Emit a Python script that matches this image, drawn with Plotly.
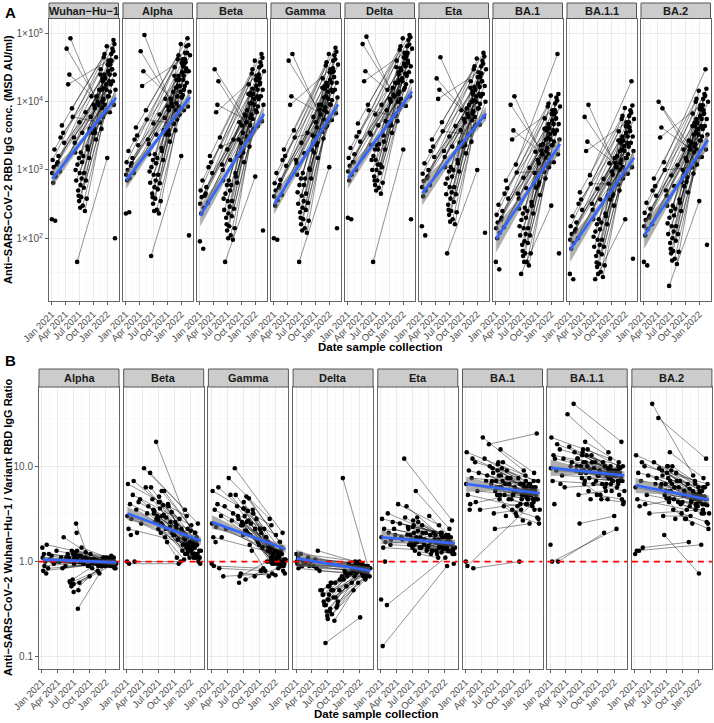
import math
import plotly.graph_objects as go

# ---------------- DATA ----------------
first_dates = ["2021-01-05","2021-01-08","2021-01-12","2021-01-15","2021-01-20","2021-01-28","2021-02-05","2021-02-15","2021-02-25","2021-03-10",
               "2021-03-25","2021-04-10","2021-04-20","2021-05-05","2021-05-15","2021-05-28","2021-06-05","2021-06-12","2021-06-18","2021-06-25",
               "2021-07-01","2021-07-05","2021-07-10","2021-07-15","2021-07-20","2021-07-25","2021-08-01","2021-08-08","2021-08-15","2021-08-25",
               "2021-09-05","2021-09-15","2021-09-25","2021-10-05","2021-10-20","2021-11-10","2021-01-03","2021-01-25","2021-03-01","2021-06-08",
               "2021-06-28","2021-07-08","2021-07-18","2021-08-20","2021-10-10","2021-11-18","2021-12-18","2022-01-30","2022-02-22","2021-07-28"]
second_dates = ["2021-11-20","2021-12-10","2022-01-15","2021-10-25","2022-02-05","2021-12-28","2022-01-05","2021-11-05","2022-02-20","2021-12-15",
                "2022-01-25","2021-11-30","2022-01-10","2021-12-05","2022-02-12","2021-12-20","2022-01-20","2021-11-15","2022-01-02","2021-12-01",
                "2022-02-01","2021-12-12","2022-01-08","2021-10-15","2022-01-28","2021-12-22","2022-01-12","2021-11-25","2022-02-08","2021-12-30",
                "2022-01-18","2021-12-08","2022-02-15","2022-01-22","2022-02-25","2022-03-01"]
third_dates = ["2021-06-02","2021-06-20","2021-07-03","2021-07-12","2021-07-22","2021-08-03","2021-08-12","2021-08-28",
               "2021-09-08","2021-09-20","2021-02-10","2021-03-18","2021-04-28","2021-05-20","2021-10-12","2021-06-30"]
fourth_dates = ["2021-12-03","2022-01-14","2021-11-28","2022-02-10","2021-12-17","2022-01-26","2021-12-26","2022-02-03",
                "2022-01-06","2021-12-14","2021-10-30","2021-12-02","2022-01-19","2021-11-10","2022-02-18","2021-09-30"]

facets_A = ["Wuhan−Hu−1", "Alpha", "Beta", "Gamma", "Delta", "Eta", "BA.1", "BA.1.1", "BA.2"]
facets_B = ["Alpha", "Beta", "Gamma", "Delta", "Eta", "BA.1", "BA.1.1", "BA.2"]

# Panel A: IgG concentration (MSD AU/ml)
wuhan_v1 = [900,1400,650,1100,2000,800,1200,1600,950,4500, 2500,60000,18000,85000,8000,3000,1800,700,45,500,
            350,900,600,400,1300,300,550,250,700,2200, 1500,6000,3500,9000,2800,15000,190,180,3000,1000,
            420,280,750,380,4000,25000,7000,40000,100,1600]
wuhan_v2 = [30000,45000,20000,12000,60000,15000,35000,9000,25000,50000, 18000,8000,40000,6000,80000,22000,14000,5000,1500,10000,
            30000,16000,28000,3500,50000,7000,12000,4000,20000,65000, 25000,11000,9000,35000,15000,45000]
wuhan_v3 = [2500,1200,5000,1800,3500,900,7000,2000,4000,12000,1300,3500,25000,6000,8000,1500]
wuhan_v4 = [20000,35000,15000,55000,9000,40000,18000,30000,12000,25000,10000,22000,7000,5000,70000,4000]
alpha_v1 = [850,1300,700,1000,1900,760,1150,1500,900,4200, 2300,55000,17000,95000,7500,2800,1700,650,55,450,
            320,850,560,380,1250,260,520,230,640,2100, 1400,5800,3300,8500,2600,14000,230,240,2800,950,
            400,250,700,350,3800,24000,6500,38000,110,1500]
alpha_v2 = [32000,42000,21000,11000,65000,14000,37000,8500,28000,48000, 17000,7500,42000,5500,85000,21000,15000,4800,1600,9500,
            28000,17000,27000,3300,52000,6500,12500,3800,19000,70000, 24000,12000,8500,36000,14000,48000]
alpha_v3 = [2400,1100,4800,1700,3300,850,6500,1900,3800,11000,1250,3200,28000,5500,7500,1400]
alpha_v4 = [21000,33000,16000,52000,8500,42000,17000,31000,11500,24000,9500,21000,7500,4800,68000,3800]
beta_v1 = [320,500,230,400,700,280,420,560,330,1600, 900,30000,7000,20000,3000,1200,700,260,45,200,
           130,350,230,150,500,110,210,95,270,900, 650,2800,1600,4500,1300,7500,90,70,1100,380,
           160,100,290,140,2000,13000,3800,22000,130,600]
beta_v2 = [18000,26000,12000,6500,38000,9000,21000,5000,15000,30000, 11000,4500,24000,3500,50000,13000,8500,2800,800,5800,
           18000,9500,17000,1800,32000,4000,7000,2200,12000,40000, 15000,6500,5200,21000,9000,28000]
beta_v3 = [1000,450,2000,700,1400,350,2800,800,1600,5000,450,1300,9000,2200,3500,600]
beta_v4 = [12500,22000,9500,34000,5600,25000,11000,19000,7500,15500,6200,13500,4400,3100,44000,2500]
gamma_v1 = [410,640,300,500,900,360,550,720,430,2000, 1150,40000,9000,50000,3800,1400,850,320,45,240,
            160,420,280,190,600,140,260,120,330,1050, 750,3200,1800,5000,1500,9000,100,95,1400,470,
            200,130,350,180,2300,16000,4500,28000,140,750]
gamma_v2 = [22000,34000,15000,9000,48000,11000,27000,6500,19000,38000, 14000,5500,30000,4200,62000,17000,10500,3600,1100,7500,
            23000,12000,21000,2500,40000,5200,9000,2900,15000,50000, 19000,8300,6800,27000,11500,35000]
gamma_v3 = [1250,600,2500,900,1750,450,3500,1000,2000,6000,600,1600,12000,3000,4200,750]
gamma_v4 = [15500,27000,11500,42000,7000,31000,14000,23000,9200,19000,7700,17000,5400,3800,54000,3100]
delta_v1 = [950,1500,700,1150,2100,850,1300,1700,1000,4800, 2600,70000,20000,90000,9000,3500,2300,1000,45,800,
            600,1400,1000,700,2000,550,900,450,1100,3200, 2000,7500,4500,11000,3500,19000,200,190,3100,1400,
            700,500,1200,650,5000,32000,9000,52000,190,2400]
delta_v2 = [40000,58000,26000,16000,80000,20000,45000,12000,33000,65000, 24000,10000,52000,8000,95000,29000,18000,6500,2000,13000,
            40000,21000,36000,4500,65000,9000,16000,5200,27000,85000, 33000,14000,12000,46000,20000,60000]
delta_v3 = [3300,1600,6500,2300,4500,1200,9000,2600,5200,15000,1300,3600,28000,7500,10000,2000]
delta_v4 = [25000,44000,19000,69000,11000,50000,22000,37000,15000,31000,12500,27000,8700,6200,88000,5000]
eta_v1 = [560,880,410,690,1250,500,750,1000,600,2800, 1550,22000,11000,45000,5000,1900,1100,440,60,310,
          220,560,380,250,800,190,340,160,440,1400, 950,3800,2200,5600,1750,9000,150,110,1900,630,
          260,175,470,240,2500,16000,4400,26000,120,1000]
eta_v2 = [20000,30000,13000,8000,40000,10000,23000,6000,17000,33000, 12000,5300,27000,4000,52000,15000,9300,3300,1000,6700,
          20000,10500,18500,2300,33000,4600,8000,2600,13000,43000, 16500,7300,6000,23000,10000,30000]
eta_v3 = [1550,750,3100,1100,2200,560,4400,1250,2500,7500,800,2200,15000,3700,5000,950]
eta_v4 = [13000,23000,10000,36000,6000,26000,12000,20000,8000,16500,6600,14500,4600,3300,46000,2600]
ba1_v1 = [140,220,100,170,310,120,185,250,145,700, 380,9000,2800,12000,1200,450,270,110,30,80,
          55,140,90,60,200,45,85,40,110,340, 230,900,550,1400,430,2400,45,35,450,150,
          65,45,115,60,600,4000,1100,7000,60,250]
ba1_v2 = [5700,8500,3800,2300,11500,2800,6600,1700,4700,9400, 3400,1500,7500,1130,50000,4100,2600,940,300,1900,
          5700,3000,5300,660,9400,1300,2300,750,3800,12300, 4700,2100,1700,6600,2800,8500]
ba1_v3 = [380,185,770,280,540,140,1080,300,620,1850,200,540,3800,920,1250,230]
ba1_v4 = [3800,6600,2800,10400,1700,7500,3400,5700,2300,4700,1900,4100,1300,950,13000,750]
ba11_v1 = [95,150,70,115,210,85,125,170,100,470, 260,6000,1900,9000,840,320,190,75,25,55,
           38,95,63,42,135,32,58,27,75,230, 160,630,370,950,300,1600,30,25,320,105,
           44,30,80,40,420,2700,750,4200,50,170]
ba11_v2 = [3700,5600,2500,1500,7500,1900,4400,1100,3100,6200, 2200,1000,5000,750,20000,2700,1700,620,190,1250,
           3700,2000,3500,440,6200,870,1500,500,2500,8100, 3100,1400,1100,4400,1900,5600]
ba11_v3 = [260,125,530,190,370,95,740,210,420,1250,135,370,2600,630,850,160]
ba11_v4 = [2500,4400,1900,6900,1100,5000,2250,3750,1500,3100,1250,2750,880,620,8800,500]
ba2_v1 = [150,235,110,185,330,135,200,270,160,750, 420,10000,3000,8000,1300,500,300,115,20,85,
          60,150,100,65,215,50,92,42,115,370, 250,1000,580,1500,470,2500,45,40,500,165,
          70,47,125,63,670,4400,1200,7500,80,270]
ba2_v2 = [6700,10000,4400,2700,13000,3300,7800,2000,5600,11000, 4000,1800,8900,1300,30000,4900,3100,1100,350,2200,
          6700,3600,6200,780,11000,1550,2700,890,4400,14500, 5600,2400,2000,7800,3300,10000]
ba2_v3 = [420,200,830,300,580,150,1170,330,670,2000,215,580,4200,1000,1350,250]
ba2_v4 = [4400,7800,3300,12200,2000,8900,4000,6700,2700,5600,2200,4900,1550,1100,15500,890]

# Panel B: Wuhan-Hu-1 / variant ratio
ratio_alpha_v1 = [1.1,0.8,1.2,0.9,1.0,1.5,0.85,1.05,1.15,0.95, 1.3,1.0,1.1,1.8,0.9,1.2,1.05,0.6,0.55,0.65,
                  0.48,1.1,1.25,2.5,1.3,0.32,1.15,1.0,1.4,0.95, 1.1,1.05,0.9,1.2,1.0,0.95,1.4,0.75,1.0,0.62,
                  1.2,1.1,2.0,1.05,1.0,0.9,1.0,1.1,0.95,0.5]
ratio_alpha_v2 = [1.0,0.95,1.05,1.0,0.9,1.1,0.95,1.0,0.85,1.05, 1.0,0.9,1.1,1.0,0.95,1.0,1.05,0.8,0.9,1.0,
                  1.15,0.95,1.0,0.85,1.1,0.9,1.0,0.75,1.05,0.95, 1.0,0.9,1.1,1.0,0.85,0.95]
ratio_alpha_v3 = [1.1,1.3,0.95,1.2,1.05,0.6,1.15,1.0,1.25,0.9,1.2,1.0,0.85,1.1,1.05,0.58]
ratio_alpha_v4 = [1.0,1.05,0.95,1.0,1.1,0.9,1.0,1.05,0.95,1.0,1.05,0.9,1.0,0.95,1.0,0.7]
ratio_beta_v1 = [3.0,6.5,2.2,0.95,4.0,2.8,5.0,1.0,3.5,4.2, 2.5,9.5,6.0,3.8,8.5,4.5,3.2,2.6,18,3.0,
                 2.2,4.8,3.6,2.0,5.5,2.4,3.1,1.8,2.9,4.0, 2.3,3.3,1.9,2.6,1.7,2.1,1.0,1.9,2.0,3.4,
                 2.7,4.2,2.5,1.6,2.2,1.5,1.4,1.2,1.1,3.9]
ratio_beta_v2 = [2.0,3.0,1.5,0.95,1.8,1.6,2.4,1.0,1.3,2.2, 1.4,3.5,1.7,1.9,2.5,1.5,1.6,1.3,2.1,1.2,
                 1.1,1.8,1.4,1.1,2.0,1.3,1.2,1.05,1.5,1.6, 1.1,1.4,1.0,1.2,0.95,1.3]
ratio_beta_v3 = [3.5,2.8,4.2,2.5,3.0,5.5,2.2,3.8,2.6,2.0,7.0,4.5,3.2,6.0,2.4,2.9]
ratio_beta_v4 = [1.5,1.4,1.8,1.2,1.3,2.0,1.1,1.6,1.3,1.2,2.8,1.7,1.4,2.2,1.1,1.9]
ratio_gamma_v1 = [2.5,5.5,1.8,0.9,3.5,2.3,4.0,0.85,3.0,0.7, 2.2,7.5,5.0,3.2,9.5,3.8,2.8,0.7,0.75,2.6,
                  1.9,4.2,3.0,0.65,4.8,2.0,2.7,1.5,2.5,3.5, 0.7,2.8,1.6,2.2,1.4,1.8,0.95,1.6,1.8,0.6,
                  2.4,3.6,2.1,1.3,0.8,1.3,1.2,1.0,0.95,3.4]
ratio_gamma_v2 = [1.6,2.4,1.2,0.85,1.4,1.3,1.9,0.8,1.05,0.75, 1.1,2.8,1.3,1.5,2.0,1.2,1.25,1.0,0.72,1.0,
                  0.9,1.4,1.1,0.8,1.6,1.0,0.95,0.7,1.2,1.3, 0.85,1.1,0.8,0.95,0.75,1.05]
ratio_gamma_v3 = [3.0,2.4,3.6,2.1,2.6,4.6,1.9,3.2,2.2,1.7,6.0,3.8,2.7,5.0,2.0,2.5]
ratio_gamma_v4 = [1.25,1.15,1.45,1.0,1.1,1.6,0.95,1.3,1.05,0.95,2.2,1.4,1.2,1.8,0.9,1.5]
ratio_delta_v1 = [1.0,0.95,1.1,0.85,1.05,1.2,0.9,1.0,0.95,1.1, 1.0,0.9,1.05,1.3,0.8,0.5,0.45,0.35,0.14,0.3,
                  0.25,0.4,0.55,0.32,0.6,0.28,0.5,0.24,0.42,0.35, 0.5,0.65,7.5,0.8,0.7,0.9,1.2,0.9,1.0,0.38,
                  0.27,0.45,0.6,0.33,0.75,0.85,0.95,0.8,0.85,0.5]
ratio_delta_v2 = [0.9,0.85,0.95,0.75,0.9,1.0,0.8,0.9,0.85,0.95, 0.9,0.8,0.95,1.0,0.75,0.8,0.7,0.6,0.26,0.7,
                  0.65,0.75,0.8,0.55,0.85,0.6,0.75,0.5,0.7,0.8, 0.75,0.85,0.9,0.8,0.7,0.85]
ratio_delta_v3 = [0.45,0.35,0.55,0.3,0.5,0.42,0.6,0.38,0.65,0.7,1.0,0.9,0.85,0.5,0.75,0.4]
ratio_delta_v4 = [0.8,0.75,0.85,0.7,0.8,0.75,0.85,0.7,0.9,0.85,0.95,0.9,0.8,0.75,0.85,0.65]
ratio_eta_v1 = [1.8,2.8,0.13,1.4,2.2,1.6,0.35,2.0,1.5,2.6, 1.9,4.0,2.5,1.7,12,3.8,2.3,1.5,1.9,1.7,
                1.4,2.7,2.0,1.3,5.5,1.6,2.1,1.2,1.8,2.4, 1.5,2.0,1.4,3.0,1.3,1.6,0.4,1.0,1.7,2.2,
                1.5,2.4,1.6,1.4,1.9,1.2,1.5,1.3,0.95,2.9]
ratio_eta_v2 = [1.6,2.0,0.9,1.3,1.8,1.5,1.1,1.7,1.4,2.0, 1.6,2.4,1.9,1.5,2.7,1.8,1.7,1.3,1.5,1.4,
                1.3,1.9,1.6,1.2,2.2,1.4,1.6,1.1,1.5,1.8, 1.3,1.6,1.2,1.9,1.2,1.4]
ratio_eta_v3 = [1.9,1.6,2.3,1.5,1.8,2.6,1.4,2.0,1.7,1.3,3.2,2.2,1.8,2.9,1.6,1.5]
ratio_eta_v4 = [1.5,1.4,1.7,1.3,1.5,1.8,1.35,1.6,1.4,1.25,2.0,1.6,1.5,1.9,1.3,1.45]
ratio_ba1_v1 = [6.5,14,0.9,5.0,9.0,4.0,7.5,0.85,11,5.5, 3.5,20,12,8.0,17,6.5,9.5,3.2,2.2,7.0,
                5.0,10.5,8.0,4.5,15,6.0,7.0,3.8,6.5,9.0, 4.5,7.5,3.5,5.5,3.0,4.0,1.0,3.5,4.2,8.5,
                6.0,11,5.0,3.0,6.0,4.5,4.0,3.5,2.8,9.5]
ratio_ba1_v2 = [5.0,8.0,4.0,3.8,6.0,5.5,6.5,1.0,7.0,4.8, 4.2,9.0,6.0,5.5,22,5.0,6.0,3.5,2.5,5.0,
                4.5,7.0,5.5,3.2,8.5,4.5,5.0,2.7,5.0,6.5, 3.8,5.5,2.9,4.5,2.5,3.5]
ratio_ba1_v3 = [7.0,5.5,9.0,6.0,8.0,11,5.0,7.5,6.5,4.5,12,8.5,7.0,10,5.5,6.0]
ratio_ba1_v4 = [5.5,5.0,6.5,4.5,6.0,7.0,4.5,5.5,5.0,4.0,7.5,6.0,5.5,6.5,4.5,5.0]
ratio_ba11_v1 = [9.5,20,1.0,7.0,13,12,9.0,1.0,15,8.0, 6.0,35,16,11,45,9.0,12,5.0,2.5,10,
                 7.5,14,11,6.5,18,8.5,10,5.5,9.0,13, 6.5,11,5.0,8.0,4.5,6.0,1.5,4.0,6.5,12,
                 8.5,15,7.0,4.5,9.0,6.5,5.5,5.0,4.0,13]
ratio_ba11_v2 = [8.0,12,2.2,6.5,9.5,8.5,8.0,2.0,10,7.5, 6.5,14,9.0,8.5,18,8.0,9.0,5.5,3.0,7.5,
                 7.0,10,8.5,5.0,11,7.0,8.0,4.5,7.5,9.0, 6.0,8.5,4.5,7.0,4.2,5.5]
ratio_ba11_v3 = [10,8.5,13,9.0,11,15,7.5,11,9.5,7.0,17,12,10,14,8.5,9.0]
ratio_ba11_v4 = [8.5,8.0,9.5,7.5,9.0,10,7.0,8.5,8.0,6.5,11,9.0,8.5,10,7.0,8.0]
ratio_ba2_v1 = [6.0,13,1.3,4.5,8.5,3.8,7.0,1.4,10,5.0, 3.2,45,11,7.5,32,6.0,9.0,3.0,1.9,6.5,
                4.6,10,7.5,4.2,14,5.5,6.5,3.5,6.0,8.5, 4.2,7.0,3.2,5.0,2.8,3.8,1.2,1.3,4.0,8.0,
                5.5,10,4.6,2.8,5.5,4.2,3.8,3.2,2.5,9.0]
ratio_ba2_v2 = [4.5,7.0,1.5,3.5,6.0,5.0,5.5,1.6,6.5,4.0, 3.5,8.0,5.5,5.0,12,4.5,5.5,3.0,0.75,4.5,
                4.0,6.5,5.0,2.8,7.5,4.0,4.5,2.5,4.5,6.0, 3.2,5.0,2.6,4.0,2.2,3.2]
ratio_ba2_v3 = [6.5,5.0,8.5,5.5,7.0,10,4.5,7.0,6.0,4.0,11,8.0,6.5,9.5,5.0,5.5]
ratio_ba2_v4 = [4.8,4.5,5.5,4.0,5.0,6.0,3.8,4.8,4.3,3.5,6.5,5.2,4.8,5.8,3.9,4.2]

# Linear-fit trend: value at start / end dates, and band half-widths (log10 units)
trend_dates = ["2021-01-05", "2021-08-03", "2022-03-01"]
trend_A_start = [740, 710, 214, 316, 760, 457, 98, 68, 110]
trend_A_end = [11500, 11700, 6600, 9100, 14100, 6760, 2400, 1510, 2750]
band_A_start = [0.12, 0.13, 0.16, 0.15, 0.15, 0.18, 0.20, 0.18, 0.20]
band_A_mid = [0.04, 0.04, 0.05, 0.05, 0.04, 0.05, 0.05, 0.05, 0.05]
band_A_end = [0.09, 0.09, 0.10, 0.10, 0.09, 0.10, 0.11, 0.11, 0.11]
trend_B_start = [1.05, 3.2, 2.6, 1.08, 1.8, 6.5, 9.6, 6.3]
trend_B_end = [0.98, 1.65, 1.35, 0.80, 1.55, 5.2, 8.0, 4.45]
band_B_start = [0.03, 0.07, 0.07, 0.09, 0.07, 0.08, 0.085, 0.08]
band_B_mid = [0.015, 0.025, 0.025, 0.025, 0.02, 0.025, 0.025, 0.025]
band_B_end = [0.03, 0.04, 0.04, 0.04, 0.04, 0.045, 0.045, 0.045]

x_tick_vals = ["2021-01-01", "2021-04-01", "2021-07-01", "2021-10-01", "2022-01-01"]
x_tick_text = ["Jan 2021", "Apr 2021", "Jul 2021", "Oct 2021", "Jan 2022"]
x_minor_vals = ["2020-11-15", "2021-02-15", "2021-05-16", "2021-08-16", "2021-11-16", "2022-02-15"]
x_range = ["2020-12-15", "2022-03-17"]
yA_tick_vals = [100, 1000, 10000, 100000]
yA_tick_text = ["1×10<sup>2</sup>", "1×10<sup>3</sup>", "1×10<sup>4</sup>", "1×10<sup>5</sup>"]
yB_tick_vals = [0.1, 1, 10]
yB_tick_text = ["0.1", "1.0", "10.0"]

series_A = [(wuhan_v1, wuhan_v2, wuhan_v3, wuhan_v4), (alpha_v1, alpha_v2, alpha_v3, alpha_v4),
            (beta_v1, beta_v2, beta_v3, beta_v4), (gamma_v1, gamma_v2, gamma_v3, gamma_v4),
            (delta_v1, delta_v2, delta_v3, delta_v4), (eta_v1, eta_v2, eta_v3, eta_v4),
            (ba1_v1, ba1_v2, ba1_v3, ba1_v4), (ba11_v1, ba11_v2, ba11_v3, ba11_v4), (ba2_v1, ba2_v2, ba2_v3, ba2_v4)]
series_B = [(ratio_alpha_v1, ratio_alpha_v2, ratio_alpha_v3, ratio_alpha_v4),
            (ratio_beta_v1, ratio_beta_v2, ratio_beta_v3, ratio_beta_v4),
            (ratio_gamma_v1, ratio_gamma_v2, ratio_gamma_v3, ratio_gamma_v4),
            (ratio_delta_v1, ratio_delta_v2, ratio_delta_v3, ratio_delta_v4),
            (ratio_eta_v1, ratio_eta_v2, ratio_eta_v3, ratio_eta_v4),
            (ratio_ba1_v1, ratio_ba1_v2, ratio_ba1_v3, ratio_ba1_v4),
            (ratio_ba11_v1, ratio_ba11_v2, ratio_ba11_v3, ratio_ba11_v4),
            (ratio_ba2_v1, ratio_ba2_v2, ratio_ba2_v3, ratio_ba2_v4)]

# ---------------- FIGURE ----------------
W, H = 714, 723
FONT = "Liberation Sans, Arial, Helvetica, sans-serif"
fig = go.Figure()
layout = dict(width=W, height=H, margin=dict(l=0, r=0, t=0, b=0), paper_bgcolor="white",
              plot_bgcolor="white", showlegend=False, font=dict(family=FONT, color="#1A1A1A"))
shapes, annotations = [], []


def px(x):
    return x / W


def py(y):
    return 1 - y / H


def add_facet(k, vals, t0, t1, b0, bm, b1, dom_x, dom_y, yrange, ytv, ytt, show_y, refline):
    v1, v2, v3, v4 = vals
    xa, ya = f"x{k}", f"y{k}"
    lx, ly = [], []
    for i in range(len(v2)):
        lx += [first_dates[i], second_dates[i], None]
        ly += [v1[i], v2[i], None]
    for i in range(len(v3)):
        lx += [third_dates[i], fourth_dates[i], None]
        ly += [v3[i], v4[i], None]
    fig.add_trace(go.Scatter(x=lx, y=ly, mode="lines", line=dict(color="rgba(0,0,0,0.72)", width=0.6),
                             xaxis=xa, yaxis=ya, hoverinfo="skip"))
    fig.add_trace(go.Scatter(x=first_dates + second_dates + third_dates + fourth_dates,
                             y=list(v1) + list(v2) + list(v3) + list(v4), mode="markers",
                             marker=dict(color="black", size=4.6), xaxis=xa, yaxis=ya))
    c0, c1 = math.log10(t0), math.log10(t1)
    cm = (c0 + c1) / 2
    bx = trend_dates + trend_dates[::-1]
    by = [10 ** (c0 + b0), 10 ** (cm + bm), 10 ** (c1 + b1), 10 ** (c1 - b1), 10 ** (cm - bm), 10 ** (c0 - b0)]
    fig.add_trace(go.Scatter(x=bx, y=by, mode="lines", fill="toself", fillcolor="rgba(110,110,110,0.55)",
                             line=dict(width=0), xaxis=xa, yaxis=ya, hoverinfo="skip"))
    if refline:
        fig.add_trace(go.Scatter(x=x_range, y=[1, 1], mode="lines",
                                 line=dict(color="#FF0000", width=1.6, dash="6px,5px"), xaxis=xa, yaxis=ya))
    fig.add_trace(go.Scatter(x=[trend_dates[0], trend_dates[2]], y=[t0, t1], mode="lines",
                             line=dict(color="#3366FF", width=2.6), xaxis=xa, yaxis=ya))
    axk = "" if k == 1 else str(k)
    layout["xaxis" + axk] = dict(domain=dom_x, anchor=ya, type="date", range=x_range,
                                 tickmode="array", tickvals=x_tick_vals, ticktext=x_tick_text,
                                 tickangle=-45, tickfont=dict(size=9.5, color="#4D4D4D", family=FONT),
                                 ticks="outside", ticklen=3, tickcolor="#333333", tickwidth=0.8,
                                 showline=True, mirror=True, linecolor="#666666", linewidth=1,
                                 showgrid=True, gridcolor="#EBEBEB", gridwidth=1, zeroline=False,
                                 minor=dict(tickmode="array", tickvals=x_minor_vals, showgrid=True,
                                            gridcolor="#F3F3F3", gridwidth=0.6, ticks=""),
                                 automargin=False, fixedrange=True)
    layout["yaxis" + axk] = dict(domain=dom_y, anchor=xa, type="log", range=yrange,
                                 tickmode="array", tickvals=ytv, ticktext=ytt, showticklabels=show_y,
                                 tickfont=dict(size=10, color="#4D4D4D", family=FONT),
                                 ticks="outside" if show_y else "", ticklen=3, tickcolor="#333333", tickwidth=0.8,
                                 showline=True, mirror=True, linecolor="#666666", linewidth=1,
                                 showgrid=True, gridcolor="#EBEBEB", gridwidth=1, zeroline=False,
                                 minor=dict(tickmode="array",
                                            tickvals=([10 ** 1.5, 10 ** 2.5, 10 ** 3.5, 10 ** 4.5] if yrange[1] > 3
                                                      else [10 ** -0.5, 10 ** 0.5, 10 ** 1.5]),
                                            showgrid=True, gridcolor="#F3F3F3", gridwidth=0.6, ticks=""),
                                 automargin=False, fixedrange=True)


def add_strip(x0, x1, y0, y1, text):
    shapes.append(dict(type="rect", xref="paper", yref="paper", x0=px(x0), x1=px(x1), y0=py(y1), y1=py(y0),
                       fillcolor="#CCCCCC", line=dict(color="#555555", width=1), layer="above"))
    annotations.append(dict(x=px((x0 + x1) / 2), y=py((y0 + y1) / 2), xref="paper", yref="paper", text=text,
                            showarrow=False, xanchor="center", yanchor="middle",
                            font=dict(size=11, color="#1A1A1A", family=FONT, weight="bold")))


# Panel A geometry
A_left0, A_step, A_w = 49, 74, 69.5
A_top, A_bot, A_strip_top = 18.5, 301, 3
for i, name in enumerate(facets_A):
    x0 = A_left0 + A_step * i
    add_facet(i + 1, series_A[i], trend_A_start[i], trend_A_end[i], band_A_start[i], band_A_mid[i], band_A_end[i],
              [px(x0), px(x0 + A_w)], [py(A_bot), py(A_top)], [1.08, 5.22], yA_tick_vals, yA_tick_text,
              i == 0, False)
    add_strip(x0, x0 + A_w, A_strip_top, A_top, name)

# Panel B geometry
B_left0, B_step, B_w = 39, 84.7, 80
B_top, B_bot, B_strip_top = 387, 669, 369
for j, name in enumerate(facets_B):
    x0 = B_left0 + B_step * j
    add_facet(10 + j, series_B[j], trend_B_start[j], trend_B_end[j], band_B_start[j], band_B_mid[j], band_B_end[j],
              [px(x0), px(x0 + B_w)], [py(B_bot), py(B_top)], [-1.126, 1.83], yB_tick_vals, yB_tick_text,
              j == 0, True)
    add_strip(x0, x0 + B_w, B_strip_top, B_top, name)


def text_ann(x, y, text, size, angle=0, anchor="center"):
    annotations.append(dict(x=px(x), y=py(y), xref="paper", yref="paper", text=text, showarrow=False,
                            textangle=angle, xanchor=anchor, yanchor="middle",
                            font=dict(size=size, color="#000000", family=FONT, weight="bold")))


text_ann(380, 347, "Date sample collection", 11.5)
text_ann(376, 714, "Date sample collection", 11.5)
text_ann(8, 160, "Anti−SARS−CoV−2 RBD IgG conc. (MSD AU/ml)", 11, angle=-90)
text_ann(8, 528, "Anti−SARS−CoV−2 Wuhan−Hu−1 / Variant RBD IgG Ratio", 11, angle=-90)
text_ann(3, 12, "A", 15, anchor="left")
text_ann(3, 360, "B", 15, anchor="left")

layout["shapes"] = shapes
layout["annotations"] = annotations
fig.update_layout(**layout)
fig.write_html("out.html", config={"displayModeBar": False, "staticPlot": True},
               post_script="document.body.style.margin='0px';document.body.style.overflow='hidden';")
